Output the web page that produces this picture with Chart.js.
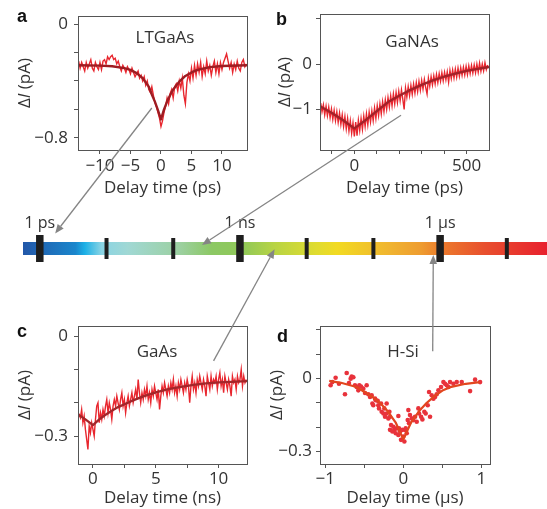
<!DOCTYPE html>
<html>
<head>
<meta charset="utf-8">
<script src="https://cdn.jsdelivr.net/npm/chart.js@4.4.1/dist/chart.umd.min.js"></script>
<style>
  html, body { margin: 0; padding: 0; background: #fff; }
  #page { position: relative; width: 547px; height: 509px; overflow: hidden; }
  canvas { position: absolute; }
</style>
</head>
<body>
<div id="page">
  <canvas id="chartA" style="left:0;top:0" width="265" height="205"></canvas>
  <canvas id="chartB" style="left:265px;top:0" width="240" height="205"></canvas>
  <canvas id="chartC" style="left:0;top:310px" width="265" height="199"></canvas>
  <canvas id="chartD" style="left:265px;top:310px" width="240" height="199"></canvas>
  <canvas id="timeBar" style="left:0;top:0" width="547" height="509"></canvas>
</div>
<script>
// --- a : LTGaAs (ps) ---
const aStart = -13.5, aStep = 0.25;
const aNoisy = [
  -0.26, -0.31, -0.27, -0.30, -0.33, -0.27, -0.31, -0.28, -0.25, -0.31,
  -0.33, -0.27, -0.30, -0.32, -0.27, -0.32, -0.26, -0.25, -0.28, -0.23,
  -0.25, -0.23, -0.22, -0.25, -0.24, -0.28, -0.26, -0.30, -0.33, -0.29,
  -0.31, -0.34, -0.30, -0.32, -0.35, -0.31, -0.34, -0.37, -0.35, -0.33,
  -0.38, -0.36, -0.40, -0.37, -0.43, -0.40, -0.46, -0.48, -0.44, -0.50,
  -0.55, -0.58, -0.62, -0.66, -0.72, -0.68, -0.62, -0.58, -0.52, -0.56,
  -0.49, -0.46, -0.52, -0.44, -0.42, -0.47, -0.40, -0.45, -0.38, -0.50,
  -0.56, -0.41, -0.35, -0.40, -0.31, -0.38, -0.29, -0.36, -0.28, -0.34,
  -0.27, -0.37, -0.30, -0.35, -0.26, -0.33, -0.29, -0.36, -0.30, -0.26,
  -0.34, -0.28, -0.35, -0.27, -0.32, -0.27, -0.24, -0.21, -0.26, -0.31,
  -0.27, -0.34, -0.28, -0.32, -0.26, -0.31, -0.33, -0.27, -0.25, -0.30,
  -0.28
];
const aFitT = [-13.6, -10, -8, -6, -5, -4, -3, -2, -1.5, -1, -0.5, 0, 0.5, 1, 1.5, 2, 3, 4, 5, 6, 8, 10, 14.1];
const aFitV = [-0.29, -0.292, -0.297, -0.31, -0.322, -0.345, -0.38, -0.44, -0.495, -0.545, -0.605, -0.67, -0.6, -0.545, -0.5, -0.46, -0.405, -0.365, -0.34, -0.322, -0.303, -0.295, -0.29];
const aXTicks = [-10, -5, 0, 5, 10];
const aXLabels = [-10, -5, 0, 5, 10];
const aYTicks = [0, -0.2, -0.4, -0.6, -0.8];
const aYLabels = [0, -0.8];

// --- b : GaNAs (ps) ---
const bStart = -150, bStep = 6;
const bNoisy = [
  -0.86, -1.05, -0.90, -1.12, -0.93, -1.14, -0.95, -1.18, -0.99, -1.22,
  -1.02, -1.25, -1.05, -1.29, -1.08, -1.33, -1.12, -1.38, -1.16, -1.43,
  -1.20, -1.48, -1.25, -1.53, -1.30, -1.60, -1.28, -1.58, -1.24, -1.47,
  -1.20, -1.44, -1.15, -1.38, -1.10, -1.34, -1.06, -1.28, -1.03, -1.25,
  -0.97, -1.20, -0.92, -1.14, -0.88, -1.10, -0.83, -1.05, -0.79, -1.00,
  -0.74, -0.95, -0.70, -0.92, -0.66, -0.88, -0.63, -0.85, -0.60, -0.81,
  -0.57, -0.78, -1.00, -0.53, -0.73, -0.50, -0.70, -0.47, -0.67, -0.44,
  -0.64, -0.41, -0.61, -0.38, -0.58, -0.36, -0.55, -0.34, -0.52, -0.66,
  -0.31, -0.49, -0.28, -0.46, -0.26, -0.44, -0.23, -0.41, -0.21, -0.38,
  -0.19, -0.37, -0.18, -0.35, -0.17, -0.40, -0.14, -0.32, -0.13, -0.31,
  -0.11, -0.29, -0.09, -0.27, -0.08, -0.25, -0.07, -0.24, -0.05, -0.23,
  -0.04, -0.21, -0.03, -0.20, -0.02, -0.19, 0.00, -0.18, 0.02, -0.16,
  0.00, -0.15, 0.03, -0.12, -0.02
];
const bFitT = [-153, -100, -50, 0, 50, 100, 150, 200, 250, 300, 350, 400, 450, 500, 550, 600];
const bFitV = [-0.93, -1.08, -1.24, -1.42, -1.24, -1.04, -0.84, -0.70, -0.57, -0.46, -0.36, -0.28, -0.21, -0.15, -0.105, -0.065];
const bXTicks = [-100, 0, 100, 200, 300, 400, 500];
const bXLabels = [0, 500];
const bYTicks = [1, 0, -1];
const bYLabels = [0, -1];

// --- c : GaAs (ns) ---
const cStart = -1.2, cStep = 0.1;
const cNoisy = [
  -0.23, -0.235, -0.245, -0.22, -0.26, -0.24, -0.28, -0.31, -0.34, -0.27,
  -0.29, -0.26, -0.28, -0.30, -0.25, -0.21, -0.20, -0.26, -0.23, -0.25,
  -0.22, -0.24, -0.21, -0.19, -0.23, -0.20, -0.22, -0.25, -0.21, -0.19,
  -0.21, -0.18, -0.20, -0.22, -0.19, -0.17, -0.21, -0.19, -0.23, -0.20,
  -0.18, -0.21, -0.19, -0.17, -0.20, -0.18, -0.16, -0.19, -0.13, -0.17,
  -0.20, -0.17, -0.19, -0.16, -0.18, -0.15, -0.19, -0.17, -0.20, -0.16,
  -0.18, -0.15, -0.17, -0.19, -0.16, -0.22, -0.18, -0.15, -0.17, -0.14,
  -0.16, -0.18, -0.15, -0.17, -0.14, -0.16, -0.13, -0.17, -0.15, -0.18,
  -0.14, -0.16, -0.13, -0.15, -0.17, -0.14, -0.16, -0.13, -0.15, -0.20,
  -0.15, -0.12, -0.16, -0.14, -0.17, -0.13, -0.15, -0.12, -0.14, -0.16,
  -0.13, -0.15, -0.18, -0.12, -0.14, -0.16, -0.12, -0.15, -0.13, -0.14,
  -0.12, -0.16, -0.13, -0.11, -0.15, -0.13, -0.17, -0.12, -0.14, -0.16,
  -0.13, -0.15, -0.18, -0.12, -0.14, -0.13, -0.16, -0.12, -0.14, -0.13,
  -0.10, -0.15, -0.12, -0.14, -0.13
];
const cFitT = [-1.19, -0.6, 0, 0.5, 1, 1.5, 2, 3, 4, 5, 6, 7, 8, 9, 10, 11, 12.26];
const cFitV = [-0.235, -0.25, -0.267, -0.25, -0.236, -0.224, -0.213, -0.196, -0.181, -0.169, -0.159, -0.152, -0.146, -0.142, -0.139, -0.137, -0.135];
const cXTicks = [0, 2.5, 5, 7.5, 10];
const cXLabels = [0, 5, 10];
const cYTicks = [0, -0.1, -0.2, -0.3];
const cYLabels = [0, -0.3];

// --- d : H-Si (µs) ---
const dT = [-0.932, -0.910, -0.868, -0.825, -0.748, -0.726, -0.697, -0.675, -0.662, -0.641,
  -0.620, -0.598, -0.577, -0.564, -0.543, -0.513, -0.491, -0.470, -0.449, -0.427,
  -0.406, -0.397, -0.385, -0.363, -0.355, -0.329, -0.321, -0.312, -0.286, -0.278,
  -0.256, -0.244, -0.235, -0.214, -0.214, -0.192, -0.179, -0.171, -0.171, -0.158,
  -0.141, -0.128, -0.115, -0.098, -0.085, -0.064, -0.064, -0.056, -0.043, -0.030,
  -0.013, 0.000, 0.013, 0.021, 0.030, 0.043, 0.056, 0.064, 0.073, 0.085,
  0.107, 0.128, 0.150, 0.171, 0.192, 0.201, 0.227, 0.244, 0.269, 0.286,
  0.312, 0.329, 0.342, 0.363, 0.385, 0.406, 0.427, 0.449, 0.483, 0.513,
  0.534, 0.556, 0.577, 0.598, 0.641, 0.684, 0.748, 0.855, 0.919, 0.983];
const dV = [-0.028, -0.015, 0.003, -0.022, -0.065, 0.022, -0.019, -0.001, 0.008, 0.005,
  -0.028, -0.035, -0.049, -0.028, -0.033, -0.042, -0.060, -0.028, -0.065, -0.076,
  -0.069, -0.103, -0.110, -0.083, -0.089, -0.092, -0.110, -0.123, -0.103, -0.137,
  -0.144, -0.123, -0.157, -0.103, -0.144, -0.164, -0.137, -0.157, -0.211, -0.191,
  -0.218, -0.198, -0.211, -0.225, -0.205, -0.154, -0.232, -0.205, -0.218, -0.252,
  -0.211, -0.238, -0.259, -0.211, -0.205, -0.225, -0.171, -0.130, -0.184, -0.150,
  -0.164, -0.171, -0.157, -0.178, -0.123, -0.144, -0.157, -0.168, -0.137, -0.144,
  -0.110, -0.056, -0.157, -0.069, -0.083, -0.076, -0.065, -0.049, -0.035, -0.015,
  -0.022, -0.028, -0.035, -0.015, -0.022, -0.015, -0.015, -0.052, -0.005, -0.015];
const dFitT = [-0.95, -0.8, -0.6, -0.4, -0.3, -0.2, -0.1, 0, 0.1, 0.2, 0.3, 0.4, 0.5, 0.6, 0.8, 0.98];
const dFitV = [-0.01, -0.018, -0.035, -0.075, -0.1, -0.135, -0.18, -0.25, -0.18, -0.135, -0.1, -0.072, -0.05, -0.036, -0.022, -0.015];
const dXTicks = [-1, -0.5, 0, 0.5, 1];
const dXLabels = [-1, 0, 1];
const dYTicks = [0.2, 0.1, 0, -0.1, -0.2, -0.3];
const dYLabels = [0, -0.3];

// --- time scale bar ---
const decades = [1e-12, 1e-11, 1e-10, 1e-9, 1e-8, 1e-7, 1e-6, 1e-5];
const majorDecades = [1e-12, 1e-9, 1e-6];
const decadeNames = { 1e-12: "1 ps", 1e-9: "1 ns", 1e-6: "1 μs" };
const barRange = [5.6e-13, 4.0e-5];
// arrows: from a point in a panel (data units) to a time on the bar
const arrowFrom = { a: [-1.5, -0.59], b: [208, -1.13], c: [9.6, -0.074], d: [0.376, 0.111] };
const arrowTo = { a: [1.7e-12, 1.12], b: [2.7e-10, 0.26], c: [3.3e-9, -0.06], d: [7.9e-7, -0.48] };

Chart.defaults.font.family = "'Open Sans', sans-serif";
Chart.defaults.color = "#333";

const FONT = { size: 17 };
const AXIS = "#555";

function pairs(xs, ys) {
  return xs.map((x, i) => ({ x: x, y: ys[i] }));
}
function grid(start, step, ys) {
  return ys.map((y, i) => ({ x: start + i * step, y: y }));
}
function fmt(v) {
  return v < 0 ? "\u2212" + Math.abs(v) : String(v);
}

// box round the plot area
const framePlugin = {
  id: "frame",
  afterDatasetsDraw(chart) {
    const { ctx, chartArea: a } = chart;
    ctx.save();
    ctx.strokeStyle = AXIS;
    ctx.lineWidth = 1;
    ctx.strokeRect(Math.round(a.left) + 0.5, Math.round(a.top) + 0.5,
      Math.round(a.right - a.left), Math.round(a.bottom - a.top));
    ctx.restore();
  },
};

// rotated "ΔI (pA)" with italic I
const yTitlePlugin = {
  id: "yTitle",
  afterDraw(chart, args, opts) {
    const { ctx, chartArea } = chart;
    const parts = [["Δ", ""], ["I", "italic "], [" (pA)", ""]];
    ctx.save();
    ctx.fillStyle = "#333";
    ctx.textBaseline = "middle";
    let total = 0;
    parts.forEach(([t, s]) => {
      ctx.font = s + "17px 'Open Sans'";
      total += ctx.measureText(t).width;
    });
    ctx.translate(chartArea.left + opts.offset, (chartArea.top + chartArea.bottom) / 2);
    ctx.rotate(-Math.PI / 2);
    let x = -total / 2;
    parts.forEach(([t, s]) => {
      ctx.font = s + "17px 'Open Sans'";
      ctx.fillText(t, x, 0);
      x += ctx.measureText(t).width;
    });
    ctx.restore();
  },
};

function makePanel(id, p) {
  return new Chart(document.getElementById(id), {
    type: "line",
    data: { datasets: p.datasets },
    options: {
      responsive: false,
      animation: false,
      events: [],
      layout: { padding: p.pad, autoPadding: false },
      plugins: {
        legend: { display: false },
        tooltip: { enabled: false },
        yTitle: { offset: p.titleOffset },
      },
      scales: {
        x: {
          type: "linear",
          min: p.xRange[0],
          max: p.xRange[1],
          bounds: "data",
          afterBuildTicks: (s) => { s.ticks = p.xTicks.map((v) => ({ value: v })); },
          afterFit: (s) => { s.height = p.xHeight; },
          ticks: {
            autoSkip: false,
            maxRotation: 0,
            padding: p.xPad,
            font: FONT,
            color: "#333",
            callback: (v) => (p.xLabels.includes(v) ? fmt(v) : ""),
          },
          grid: { drawOnChartArea: false, tickLength: 4, color: AXIS },
          border: { display: false },
          title: { display: true, text: p.xTitle, font: FONT, color: "#333", padding: { top: 0, bottom: p.titlePad } },
        },
        y: {
          type: "linear",
          min: p.yRange[0],
          max: p.yRange[1],
          bounds: "data",
          afterBuildTicks: (s) => { s.ticks = p.yTicks.map((v) => ({ value: v })); },
          afterFit: (s) => { s.width = p.yWidth; },
          ticks: {
            autoSkip: false,
            padding: p.yPad,
            font: FONT,
            color: "#333",
            callback: (v) => (p.yLabels.includes(v) ? fmt(v) : ""),
          },
          grid: { drawOnChartArea: false, tickLength: 4, color: AXIS },
          border: { display: false },
        },
      },
    },
    plugins: [framePlugin, yTitlePlugin],
  });
}

function fitSet(pts, color, width) {
  return { data: pts, borderColor: color, borderWidth: width, pointRadius: 0, tension: 0, borderJoinStyle: "round" };
}
function traceSet(pts) {
  return { data: pts, borderColor: "#e8262e", borderWidth: 1.4, pointRadius: 0, tension: 0 };
}

const panels = {};
panels.a = makePanel("chartA", {
  datasets: [fitSet(pairs(aFitT, aFitV), "#9e1c22", 2.4), traceSet(grid(aStart, aStep, aNoisy))],
  pad: { top: 13, right: 18, left: 0, bottom: 0 },
  xRange: [-13.6, 14.1], yRange: [-0.885, 0.055],
  xTicks: aXTicks, xLabels: aXLabels, yTicks: aYTicks, yLabels: aYLabels,
  xHeight: 55, yWidth: 78, xPad: 2, yPad: 6, titlePad: 7, titleOffset: -53,
  xTitle: "Delay time (ps)",
});
panels.b = makePanel("chartB", {
  datasets: [fitSet(pairs(bFitT, bFitV), "#a1232a", 2.3), traceSet(grid(bStart, bStep, bNoisy))],
  pad: { top: 13, right: 16, left: 0, bottom: 0 },
  xRange: [-153, 600], yRange: [-1.897, 1.1],
  xTicks: bXTicks, xLabels: bXLabels, yTicks: bYTicks, yLabels: bYLabels,
  xHeight: 55, yWidth: 55, xPad: 2, yPad: 4, titlePad: 7, titleOffset: -35,
  xTitle: "Delay time (ps)",
});
panels.c = makePanel("chartC", {
  datasets: [fitSet(pairs(cFitT, cFitV), "#a3262a", 2.3), traceSet(grid(cStart, cStep, cNoisy))],
  pad: { top: 16, right: 18, left: 0, bottom: 0 },
  xRange: [-1.19, 12.26], yRange: [-0.384, 0.03],
  xTicks: cXTicks, xLabels: cXLabels, yTicks: cYTicks, yLabels: cYLabels,
  xHeight: 45, yWidth: 78, xPad: 1, yPad: 6, titlePad: 1, titleOffset: -53,
  xTitle: "Delay time (ns)",
});
panels.d = makePanel("chartD", {
  datasets: [
    fitSet(pairs(dFitT, dFitV), "#e2461f", 2.2),
    { data: pairs(dT, dV), showLine: false, pointRadius: 2.3, pointBorderWidth: 0, pointBackgroundColor: "#e8323b" },
  ],
  pad: { top: 16, right: 15, left: 0, bottom: 0 },
  xRange: [-1.068, 1.11], yRange: [-0.351, 0.215],
  xTicks: dXTicks, xLabels: dXLabels, yTicks: dYTicks, yLabels: dYLabels,
  xHeight: 45, yWidth: 55, xPad: 1, yPad: 4, titlePad: 1, titleOffset: -43,
  xTitle: "Delay time (μs)",
});

// panel letters and sample names
const notes = [
  { text: "a", x: 17, y: 22, bold: true },
  { text: "b", x: 276, y: 25, bold: true },
  { text: "c", x: 17, y: 337, bold: true },
  { text: "d", x: 277, y: 342, bold: true },
  { text: "LTGaAs", x: 165, y: 43, center: true },
  { text: "GaNAs", x: 412, y: 47, center: true },
  { text: "GaAs", x: 157, y: 357, center: true },
  { text: "H-Si", x: 403, y: 357, center: true },
];

const overlayPlugin = {
  id: "overlay",
  afterDraw(chart) {
    const { ctx } = chart;
    const xs = chart.scales.x, ys = chart.scales.y;
    ctx.save();
    // arrows
    ctx.strokeStyle = "#858585";
    ctx.fillStyle = "#858585";
    ctx.lineWidth = 1.3;
    Object.keys(arrowFrom).forEach((k) => {
      const src = panels[k];
      const x0 = src.canvas.offsetLeft + src.scales.x.getPixelForValue(arrowFrom[k][0]);
      const y0 = src.canvas.offsetTop + src.scales.y.getPixelForValue(arrowFrom[k][1]);
      const x1 = xs.getPixelForValue(arrowTo[k][0]);
      const y1 = ys.getPixelForValue(arrowTo[k][1]);
      const ang = Math.atan2(y1 - y0, x1 - x0);
      const len = 9, half = 3.8;
      const bx = x1 - len * Math.cos(ang), by = y1 - len * Math.sin(ang);
      ctx.beginPath();
      ctx.moveTo(x0, y0);
      ctx.lineTo(bx, by);
      ctx.stroke();
      ctx.beginPath();
      ctx.moveTo(x1, y1);
      ctx.lineTo(bx + half * Math.sin(ang), by - half * Math.cos(ang));
      ctx.lineTo(bx - half * Math.sin(ang), by + half * Math.cos(ang));
      ctx.closePath();
      ctx.fill();
    });
    // labels
    notes.forEach((n) => {
      ctx.font = n.bold ? "bold 18px 'Liberation Sans', Arial, sans-serif" : "17px 'Open Sans'";
      ctx.fillStyle = n.bold ? "#111" : "#333";
      ctx.textAlign = n.center ? "center" : "left";
      ctx.textBaseline = "alphabetic";
      ctx.fillText(n.text, n.x, n.y);
    });
    ctx.restore();
  },
};

const barStops = [
  [0, "#2257a8"], [0.1, "#1a86cc"], [0.118, "#1cb0e6"], [0.15, "#8ad4e4"], [0.2, "#a0d8d4"],
  [0.3, "#9cd0a0"], [0.36, "#8cc864"], [0.42, "#90c858"], [0.48, "#b8d444"], [0.56, "#e0dc30"],
  [0.6, "#f2da22"], [0.7, "#f0b430"], [0.76, "#ee9c30"], [0.8, "#ec7a2c"], [0.88, "#e8502e"], [1, "#e8202e"],
];

new Chart(document.getElementById("timeBar"), {
  type: "scatter",
  data: {
    datasets: [
      {
        data: decades.map((d) => ({ x: d, y: 0 })),
        pointStyle: "line",
        pointRotation: 90,
        pointRadius: decades.map((d) => (majorDecades.includes(d) ? 13.5 : 10.5)),
        pointBorderWidth: decades.map((d) => (majorDecades.includes(d) ? 7.5 : 4)),
        pointBorderColor: "#1e1e1e",
        clip: false,
      },
      {
        type: "line",
        data: barRange.map((x) => ({ x: x, y: 0 })),
        showLine: true,
        pointRadius: 0,
        borderWidth: 13,
        borderCapStyle: "butt",
        clip: false,
        borderColor: (c) => {
          const area = c.chart.chartArea;
          if (!area) return "#8cc864";
          const g = c.chart.ctx.createLinearGradient(area.left, 0, area.right, 0);
          barStops.forEach(([o, col]) => g.addColorStop(o, col));
          return g;
        },
      },
    ],
  },
  options: {
    responsive: false,
    animation: false,
    events: [],
    layout: { padding: { left: 23, right: 0, top: 195, bottom: 247 }, autoPadding: false },
    plugins: { legend: { display: false }, tooltip: { enabled: false } },
    scales: {
      x: {
        type: "logarithmic",
        position: "top",
        min: barRange[0],
        max: barRange[1],
        afterBuildTicks: (s) => { s.ticks = decades.map((v) => ({ value: v })); },
        afterFit: (s) => { s.height = 40; },
        ticks: {
          autoSkip: false,
          maxRotation: 0,
          padding: 2,
          font: { size: 16 },
          color: "#333",
          callback: (v) => decadeNames[v] || "",
        },
        grid: { display: false, drawTicks: false },
        border: { display: false },
      },
      y: { type: "linear", display: false, min: -1, max: 1 },
    },
  },
  plugins: [overlayPlugin],
});
</script>
</body>
</html>
